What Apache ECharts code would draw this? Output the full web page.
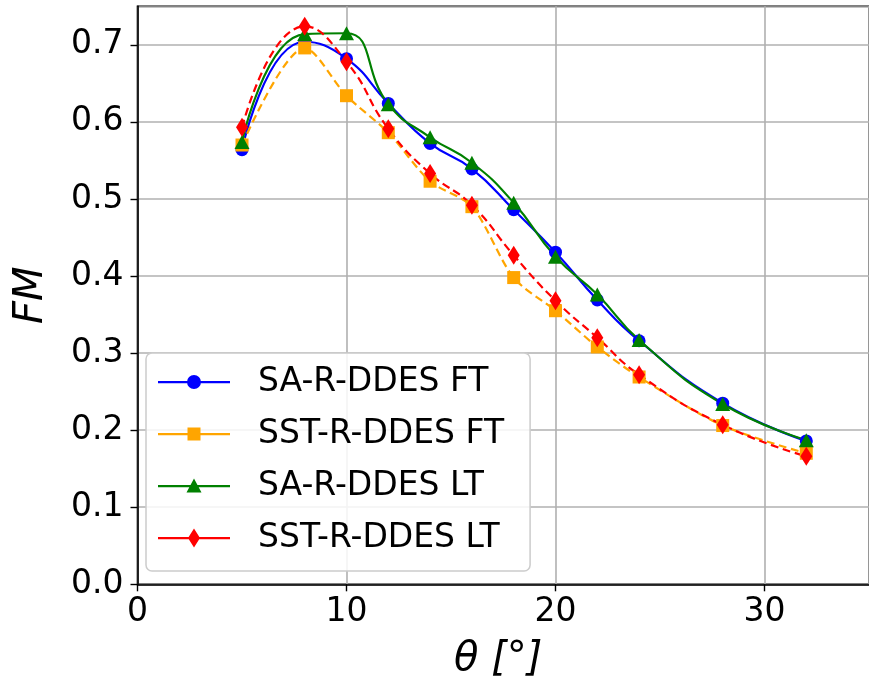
<!DOCTYPE html>
<html>
<head>
<meta charset="utf-8">
<script src="https://cdn.jsdelivr.net/npm/echarts@6/dist/echarts.min.js"></script>
<style>
  html, body { margin: 0; padding: 0; background: #ffffff; }
  #chart { width: 869px; height: 685px; }
</style>
</head>
<body>
<div id="chart"></div>
<script>
// Pitch angle (deg)
const theta = [5, 8, 10, 12, 14, 16, 18, 20, 22, 24, 28, 32];

// Figure of merit for each turbulence model / transition setting
const saFT  = [0.564, 0.704, 0.682, 0.624, 0.572, 0.539, 0.486, 0.431, 0.369, 0.316, 0.235, 0.186];
const sstFT = [0.570, 0.696, 0.634, 0.586, 0.523, 0.490, 0.398, 0.355, 0.308, 0.269, 0.206, 0.170];
const saLT  = [0.574, 0.714, 0.715, 0.623, 0.580, 0.547, 0.495, 0.425, 0.376, 0.317, 0.234, 0.187];
const sstLT = [0.593, 0.724, 0.678, 0.591, 0.533, 0.492, 0.427, 0.368, 0.320, 0.272, 0.207, 0.166];

const seriesNames = ['SA-R-DDES FT', 'SST-R-DDES FT', 'SA-R-DDES LT', 'SST-R-DDES LT'];

const xTicks = [0, 10, 20, 30];
const yTicks = [0.0, 0.1, 0.2, 0.3, 0.4, 0.5, 0.6, 0.7];

const FONT = 'DejaVu Sans';

function pairs(ys) {
  return theta.map((t, i) => [t, ys[i]]);
}

// Legend handles: a line with the marker in the middle; the two tiny
// corner segments pin the icon's bounding box so nothing gets stretched.
const LINE = 'M0 9 L72 9 L72 11.2 L0 11.2 Z ';
const BOX = 'M0 0 L0.01 0 Z M94.99 20 L95 20 Z ';
const legendIcons = [
  'path://' + BOX + LINE + 'M29 10 A7 7 0 1 1 43 10 A7 7 0 1 1 29 10 Z',
  'path://' + BOX + LINE + 'M29.5 3.5 L42.5 3.5 L42.5 16.5 L29.5 16.5 Z',
  'path://' + BOX + LINE + 'M36 2.5 L43.5 16.5 L28.5 16.5 Z',
  'path://' + BOX + LINE + 'M36 0.5 L42 10 L36 19.5 L30 10 Z'
];

const colors = ['#0000ff', '#ffa500', '#008000', '#ff0000'];

const chart = echarts.init(document.getElementById('chart'), null, { renderer: 'canvas' });

const option = {
  backgroundColor: '#ffffff',
  animation: false,
  textStyle: { fontFamily: FONT },
  grid: {
    left: 137.5,
    top: 6.3,
    width: 735,
    height: 578,
    show: true,
    borderColor: '#000000',
    borderWidth: 1.6,
    backgroundColor: 'transparent'
  },
  xAxis: {
    type: 'value',
    min: 0,
    max: 35,
    interval: 10,
    name: 'θ [°]',
    nameLocation: 'middle',
    nameGap: 55,
    nameTextStyle: { fontFamily: FONT, fontSize: 40, fontStyle: 'italic', color: '#000', padding: [0, 10, 0, 0] },
    axisLine: { show: true, onZero: false, lineStyle: { color: '#000', width: 1.6 } },
    axisTick: { show: true, inside: false, length: 7, lineStyle: { color: '#000', width: 1.4 } },
    axisLabel: {
      show: true, margin: 12, fontFamily: FONT, fontSize: 33, color: '#000',
      showMaxLabel: false,
      formatter: v => (xTicks.indexOf(v) >= 0 ? String(v) : '')
    },
    splitLine: { show: true, lineStyle: { color: '#b0b0b0', width: 1.6 } }
  },
  yAxis: {
    type: 'value',
    min: 0,
    max: 0.75,
    interval: 0.1,
    name: 'FM',
    nameLocation: 'middle',
    nameRotate: 90,
    nameGap: 86,
    nameTextStyle: { fontFamily: FONT, fontSize: 40, fontStyle: 'italic', color: '#000' },
    axisLine: { show: true, onZero: false, lineStyle: { color: '#000', width: 1.6 } },
    axisTick: { show: true, inside: false, length: 7, lineStyle: { color: '#000', width: 1.4 } },
    axisLabel: {
      show: true, margin: 14, fontFamily: FONT, fontSize: 33, color: '#000',
      showMaxLabel: false,
      formatter: v => {
        const hit = yTicks.find(t => Math.abs(t - v) < 1e-6);
        return hit === undefined ? '' : hit.toFixed(1);
      }
    },
    splitLine: { show: true, lineStyle: { color: '#b0b0b0', width: 1.6 } }
  },
  legend: {
    orient: 'vertical',
    left: 146,
    top: 353,
    itemWidth: 95,
    itemHeight: 20,
    itemGap: 12,
    padding: [9, 26, 13, 12],
    backgroundColor: 'rgba(255,255,255,0.85)',
    borderColor: '#cccccc',
    borderWidth: 1.5,
    borderRadius: 6,
    textStyle: { fontFamily: FONT, fontSize: 33, lineHeight: 40, color: '#000' },
    data: seriesNames.map((n, i) => ({
      name: n,
      icon: legendIcons[i],
      itemStyle: { color: colors[i], borderWidth: 0 }
    }))
  },
  series: [
    {
      name: seriesNames[0], type: 'line', data: pairs(saFT),
      smooth: 0.5, symbol: 'circle', symbolSize: 13,
      lineStyle: { color: colors[0], width: 2.2 },
      itemStyle: { color: colors[0], borderWidth: 0 }
    },
    {
      name: seriesNames[1], type: 'line', data: pairs(sstFT),
      smooth: 0.3, symbol: 'rect', symbolSize: 13,
      lineStyle: { color: colors[1], width: 2.2, type: [8, 4.5] },
      itemStyle: { color: colors[1], borderWidth: 0 }
    },
    {
      name: seriesNames[2], type: 'line', data: pairs(saLT),
      smooth: 0.5, symbol: 'triangle', symbolSize: [15, 14],
      lineStyle: { color: colors[2], width: 2.2 },
      itemStyle: { color: colors[2], borderWidth: 0 }
    },
    {
      name: seriesNames[3], type: 'line', data: pairs(sstLT),
      smooth: 0.5, symbol: 'diamond', symbolSize: [12, 19],
      lineStyle: { color: colors[3], width: 2.2, type: [8, 4.5] },
      itemStyle: { color: colors[3], borderWidth: 0 }
    }
  ]
};

chart.setOption(option);
</script>
</body>
</html>
